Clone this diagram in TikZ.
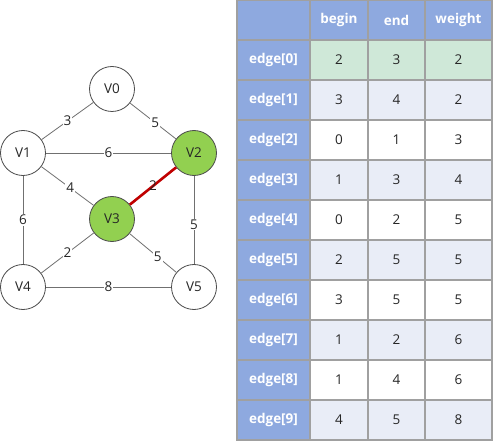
\documentclass[tikz,border=0pt]{standalone}
\usepackage{fontspec}
\setmainfont{Open Sans}
\definecolor{hdr}{HTML}{8EA9DF}
\definecolor{grn}{HTML}{CFE8D8}
\definecolor{lav}{HTML}{E9EDF7}
\definecolor{bord}{HTML}{A0A0A0}
\definecolor{vgreen}{HTML}{92D050}
\definecolor{edgeg}{HTML}{707070}
\definecolor{redge}{HTML}{C00000}
\begin{document}
\begin{tikzpicture}[x=1pt,y=-1pt,
  vert/.style={circle,draw=black!70,line width=0.8pt,minimum size=45pt,inner sep=0pt,font=\fontsize{13.5}{16}\selectfont,text=black!85},
  gedge/.style={draw=edgeg,line width=0.8pt},
  wlab/.style={fill=white,inner sep=1pt,font=\fontsize{13.5}{16}\selectfont,text=black!85},
  cell/.style={rectangle,draw=bord,line width=1.2pt,minimum height=40pt,inner sep=0pt,font=\fontsize{13.5}{16}\selectfont,text=black!85},
  hcell/.style={cell,fill=hdr,text=white,font=\fontsize{13.5}{16}\selectfont\bfseries}]
\useasboundingbox (0,0) rectangle (493,441);
\fill[white] (0,0) rectangle (493,441);
% graph
\node[vert] (v0) at (112,89) {V0};
\node[vert] (v1) at (23,153) {V1};
\node[vert,fill=vgreen] (v2) at (194,153) {V2};
\node[vert,fill=vgreen] (v3) at (112,219) {V3};
\node[vert] (v4) at (23,287) {V4};
\node[vert] (v5) at (194,287) {V5};
\draw[gedge] (v0) -- node[wlab] {3} (v1);
\draw[gedge] (v0) -- node[wlab,pos=0.55] {5} (v2);
\draw[gedge] (v1) -- node[wlab] {6} (v2);
\draw[gedge] (v1) -- node[wlab,pos=0.55] {4} (v3);
\draw[redge,line width=2.6pt] (v2) -- node[wlab,fill=none] {2} (v3);
\draw[gedge] (v1) -- node[wlab] {6} (v4);
\draw[gedge] (v2) -- node[wlab,pos=0.55] {5} (v5);
\draw[gedge] (v3) -- node[wlab] {2} (v4);
\draw[gedge] (v3) -- node[wlab,pos=0.6] {5} (v5);
\draw[gedge] (v4) -- node[wlab] {8} (v5);
% table
\def\cA{273.5}\def\cB{339}\def\cC{396.5}\def\cD{458.5}
\node[hcell,minimum width=73pt] (h0) at (\cA,20) {};
\node[hcell,minimum width=58pt] (h1) at (\cB,20) {begin};
\node[hcell,minimum width=57pt] (h2) at (\cC,20) {end};
\node[hcell,minimum width=67pt] (h3) at (\cD,20) {weight};
\foreach \i/\b/\e/\w/\col in {0/2/3/2/grn,1/3/4/2/lav,2/0/1/3/white,3/1/3/4/lav,4/0/2/5/white,5/2/5/5/lav,6/3/5/5/white,7/1/2/6/lav,8/1/4/6/white,9/4/5/8/lav}{
  \pgfmathsetmacro\yy{60+40*\i}
  \node[hcell,minimum width=73pt] (r\i c0) at (\cA,\yy) {edge[\i]};
  \node[cell,fill=\col,minimum width=58pt] (r\i c1) at (\cB,\yy) {\b};
  \node[cell,fill=\col,minimum width=57pt] (r\i c2) at (\cC,\yy) {\e};
  \node[cell,fill=\col,minimum width=67pt] (r\i c3) at (\cD,\yy) {\w};
}
\end{tikzpicture}
\end{document}
